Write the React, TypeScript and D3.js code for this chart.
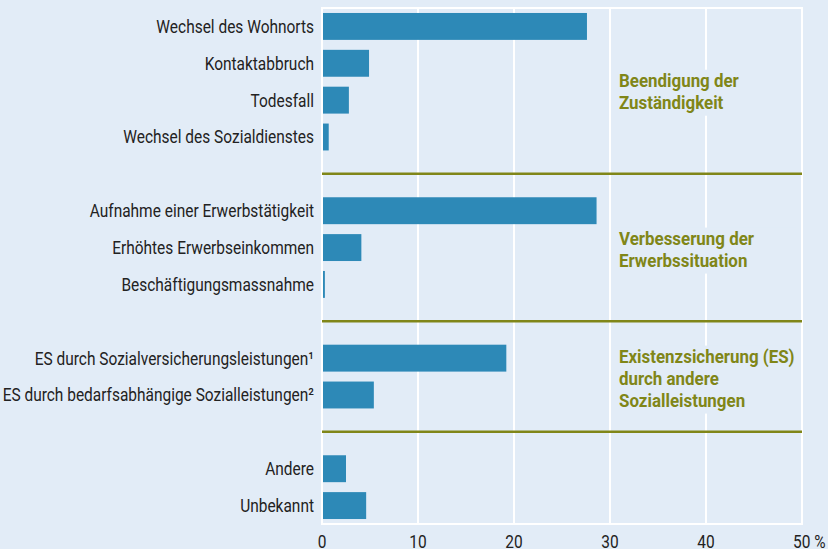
import React from "react";
import * as d3 from "d3";

// Gründe für die Ablösung, Anteil in %
const categories = [
  "Wechsel des Wohnorts",
  "Kontaktabbruch",
  "Todesfall",
  "Wechsel des Sozialdienstes",
  "Aufnahme einer Erwerbstätigkeit",
  "Erhöhtes Erwerbseinkommen",
  "Beschäftigungsmassnahme",
  "ES durch Sozialversicherungsleistungen¹",
  "ES durch bedarfsabhängige Sozialleistungen²",
  "Andere",
  "Unbekannt",
];
const values = [27.6, 4.9, 2.8, 0.7, 28.6, 4.1, 0.3, 19.2, 5.4, 2.5, 4.6];
const groupOf = [0, 0, 0, 0, 1, 1, 1, 2, 2, 3, 3];
const groupTitles = [
  ["Beendigung der", "Zuständigkeit"],
  ["Verbesserung der", "Erwerbssituation"],
  ["Existenzsicherung (ES)", "durch andere", "Sozialleistungen"],
  [],
];
const xTicks = [0, 10, 20, 30, 40, 50];

const W = 828;
const H = 549;
const BG = "#e2ecf7";
const BAR = "#2d89b7";
const OLIVE = "#808618";
const FONT = "Roboto, 'DejaVu Sans Condensed', sans-serif";

// text drawn through a horizontal squeeze, to look like a condensed face
function Narrow(props: {
  x: number;
  y: number;
  anchor?: string;
  bold?: boolean;
  fill: string;
  dy?: string;
  children: React.ReactNode;
}) {
  const sx = props.bold ? 0.94 : 0.86;
  return (
    <g transform={`translate(${props.x},${props.y}) scale(${sx},1)`}>
      <text
        x={0}
        y={0}
        dy={props.dy}
        textAnchor={props.anchor || "start"}
        fontFamily={FONT}
        fontSize={18}
        fontWeight={props.bold ? "bold" : "normal"}
        fill={props.fill}
      >
        {props.children}
      </text>
    </g>
  );
}

export default function App() {
  // slots: bars plus one empty slot between groups for the separator line
  const slots: string[] = [];
  categories.forEach((c, i) => {
    if (i > 0 && groupOf[i] !== groupOf[i - 1]) slots.push("sep-" + groupOf[i]);
    slots.push(c);
  });

  const x = d3.scaleLinear().domain([0, 50]).range([322, 802]);
  const y = d3
    .scaleBand<string>()
    .domain(slots)
    .range([8, 524])
    .paddingInner(0.27)
    .paddingOuter(0.135);
  const mid = (k: string) => (y(k) as number) + y.bandwidth() / 2;

  const seps = slots.filter((s) => s.startsWith("sep-"));

  const groupLabels = groupTitles.map((lines, g) => {
    if (!lines.length) return null;
    const rows = categories.filter((_, i) => groupOf[i] === g);
    const center = (mid(rows[0]) + mid(rows[rows.length - 1])) / 2;
    const shift = g === 0 ? 8 : 0;
    const first = center - ((lines.length - 1) * 22) / 2 + 8 + shift;
    return { lines, first };
  });

  return (
    <svg width={W} height={H} style={{ display: "block", position: "absolute", left: 0, top: 0 }}>
      <rect width={W} height={H} fill={BG} />
      {/* frame and grid */}
      <rect x={x(0)} y={8} width={x(50) - x(0)} height={516} fill="none" stroke="#fff" strokeWidth={2} />
      {xTicks.slice(1, -1).map((t) => (
        <line key={t} x1={x(t)} x2={x(t)} y1={8} y2={524} stroke="#fff" strokeWidth={2} />
      ))}
      {/* separators */}
      {seps.map((s) => (
        <line key={s} x1={x(0)} x2={x(50)} y1={mid(s)} y2={mid(s)} stroke={OLIVE} strokeWidth={2.5} />
      ))}
      {/* bars */}
      {categories.map((c, i) => (
        <rect
          key={c}
          x={x(0) + 1}
          y={y(c)}
          width={Math.max(0, x(values[i]) - x(0) - 1)}
          height={y.bandwidth()}
          fill={BAR}
        />
      ))}
      {/* category labels */}
      {categories.map((c) => (
        <Narrow key={c} x={314} y={mid(c)} dy="0.36em" anchor="end" fill="#222">
          {c}
        </Narrow>
      ))}
      {/* group labels */}
      {groupLabels.map((gl, g) =>
        gl ? (
          <g key={g}>
            <rect
              x={614}
              y={gl.first - 17}
              width={182}
              height={(gl.lines.length - 1) * 22 + 24}
              fill={BG}
            />
            {gl.lines.map((l, j) => (
              <Narrow key={j} x={619} y={gl.first + j * 22} bold fill={OLIVE}>
                {l}
              </Narrow>
            ))}
          </g>
        ) : null
      )}
      {/* x axis labels */}
      {xTicks.map((t, i) =>
        i === xTicks.length - 1 ? (
          <Narrow key={t} x={x(t) - 9} y={548} fill="#222">
            {`${t} %`}
          </Narrow>
        ) : (
          <Narrow key={t} x={x(t)} y={548} anchor="middle" fill="#222">
            {t}
          </Narrow>
        )
      )}
    </svg>
  );
}
